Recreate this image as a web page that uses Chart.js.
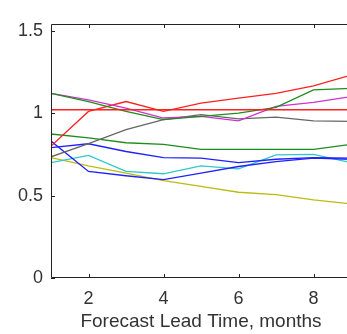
<!DOCTYPE html>
<html>
<head>
<meta charset="utf-8">
<script src="https://cdn.jsdelivr.net/npm/chart.js@4.4.0/dist/chart.umd.min.js"></script>
<style>
  html, body { margin: 0; padding: 0; background: #fff; overflow: hidden; }
  #wrap { width: 352px; height: 334px; position: relative; }
</style>
</head>
<body>
<div id="wrap"><canvas id="c"></canvas></div>
<script>
// ---- data ----
const leadMonths = [1, 2, 3, 4, 5, 6, 7, 8, 9];
const xTickValues = [2, 4, 6, 8];
const yTickValues = [0, 0.5, 1, 1.5];
const xTitle = 'Forecast Lead Time, months';

const redFlat    = [1.02, 1.02, 1.02, 1.02, 1.02, 1.02, 1.02, 1.02, 1.02];
const redRising  = [0.80, 1.01, 1.07, 1.01, 1.06, 1.09, 1.12, 1.165, 1.23];
const greenUpper = [1.12, 1.07, 1.01, 0.96, 0.98, 1.00, 1.035, 1.14, 1.15];
const magenta    = [1.12, 1.08, 1.03, 0.97, 0.98, 0.953, 1.04, 1.065, 1.10];
const grey       = [0.735, 0.815, 0.90, 0.96, 0.99, 0.965, 0.975, 0.953, 0.95];
const greenLower = [0.873, 0.85, 0.82, 0.81, 0.78, 0.78, 0.78, 0.78, 0.81];
const blueA      = [0.83, 0.646, 0.62, 0.596, 0.636, 0.676, 0.706, 0.727, 0.72];
const blueB      = [0.79, 0.814, 0.767, 0.73, 0.727, 0.70, 0.72, 0.73, 0.727];
const cyan       = [0.70, 0.743, 0.646, 0.632, 0.68, 0.662, 0.747, 0.75, 0.70];
const olive      = [0.73, 0.68, 0.636, 0.59, 0.555, 0.52, 0.505, 0.474, 0.45];

const yMax = 1.54;

function ds(data, color) {
  return { data: data, borderColor: color, borderWidth: 1.3, pointRadius: 0, fill: false, tension: 0 };
}
function pts(arr) { return arr.map((v, i) => ({ x: leadMonths[i], y: v })); }

const frame = {
  id: 'frame',
  afterDraw(chart) {
    const ctx = chart.ctx;
    const a = chart.chartArea;
    const xs = chart.scales.x, ys = chart.scales.y;
    ctx.save();
    ctx.strokeStyle = '#222';
    ctx.lineWidth = 1;
    ctx.beginPath();
    ctx.rect(a.left + 0.5, a.top + 0.5, a.right - a.left - 1, a.bottom - a.top - 1);
    ctx.stroke();
    ctx.beginPath();
    const tl = 4;
    xTickValues.forEach(v => {
      const px = Math.round(xs.getPixelForValue(v)) + 0.5;
      ctx.moveTo(px, a.bottom); ctx.lineTo(px, a.bottom - tl);
      ctx.moveTo(px, a.top); ctx.lineTo(px, a.top + tl);
    });
    yTickValues.forEach(v => {
      const py = Math.round(ys.getPixelForValue(v)) + 0.5;
      ctx.moveTo(a.left, py); ctx.lineTo(a.left + tl, py);
      ctx.moveTo(a.right, py); ctx.lineTo(a.right - tl, py);
    });
    ctx.stroke();
    ctx.restore();
  }
};

new Chart(document.getElementById('c'), {
  type: 'line',
  data: {
    labels: leadMonths,
    datasets: [
      ds(pts(redFlat), '#ff2020'),
      ds(pts(greenUpper), '#1e8c1e'),
      ds(pts(magenta), '#cc33cc'),
      ds(pts(grey), '#666666'),
      ds(pts(redRising), '#ff2020'),
      ds(pts(greenLower), '#1e8c1e'),
      ds(pts(blueA), '#2020ff'),
      ds(pts(blueB), '#2020ff'),
      ds(pts(cyan), '#30c8c8'),
      ds(pts(olive), '#bcbc10')
    ]
  },
  options: {
    responsive: true,
    maintainAspectRatio: false,
    animation: false,
    events: [],
    layout: { padding: { left: 0, right: 1, top: 24, bottom: 0 } },
    plugins: { legend: { display: false }, tooltip: { enabled: false } },
    scales: {
      x: {
        type: 'linear',
        min: 1, max: 9,
        afterBuildTicks(s) { s.ticks = xTickValues.map(v => ({ value: v })); },
        afterFit(s) { s.height = 56; },
        grid: { display: false, drawTicks: false },
        border: { display: false },
        ticks: { color: '#333', font: { family: 'Liberation Sans', size: 18 }, padding: 10, maxRotation: 0 },
        title: { display: true, text: xTitle, color: '#333', font: { family: 'Liberation Sans', size: 19 }, padding: { top: 0, bottom: 1 } }
      },
      y: {
        type: 'linear',
        min: 0, max: yMax,
        afterBuildTicks(s) { s.ticks = yTickValues.map(v => ({ value: v })); },
        afterFit(s) { s.width = 51; },
        grid: { display: false, drawTicks: false },
        border: { display: false },
        ticks: { color: '#333', font: { family: 'Liberation Sans', size: 18 }, padding: 8, callback: v => String(v) }
      }
    }
  },
  plugins: [frame]
});
</script>
</body>
</html>
